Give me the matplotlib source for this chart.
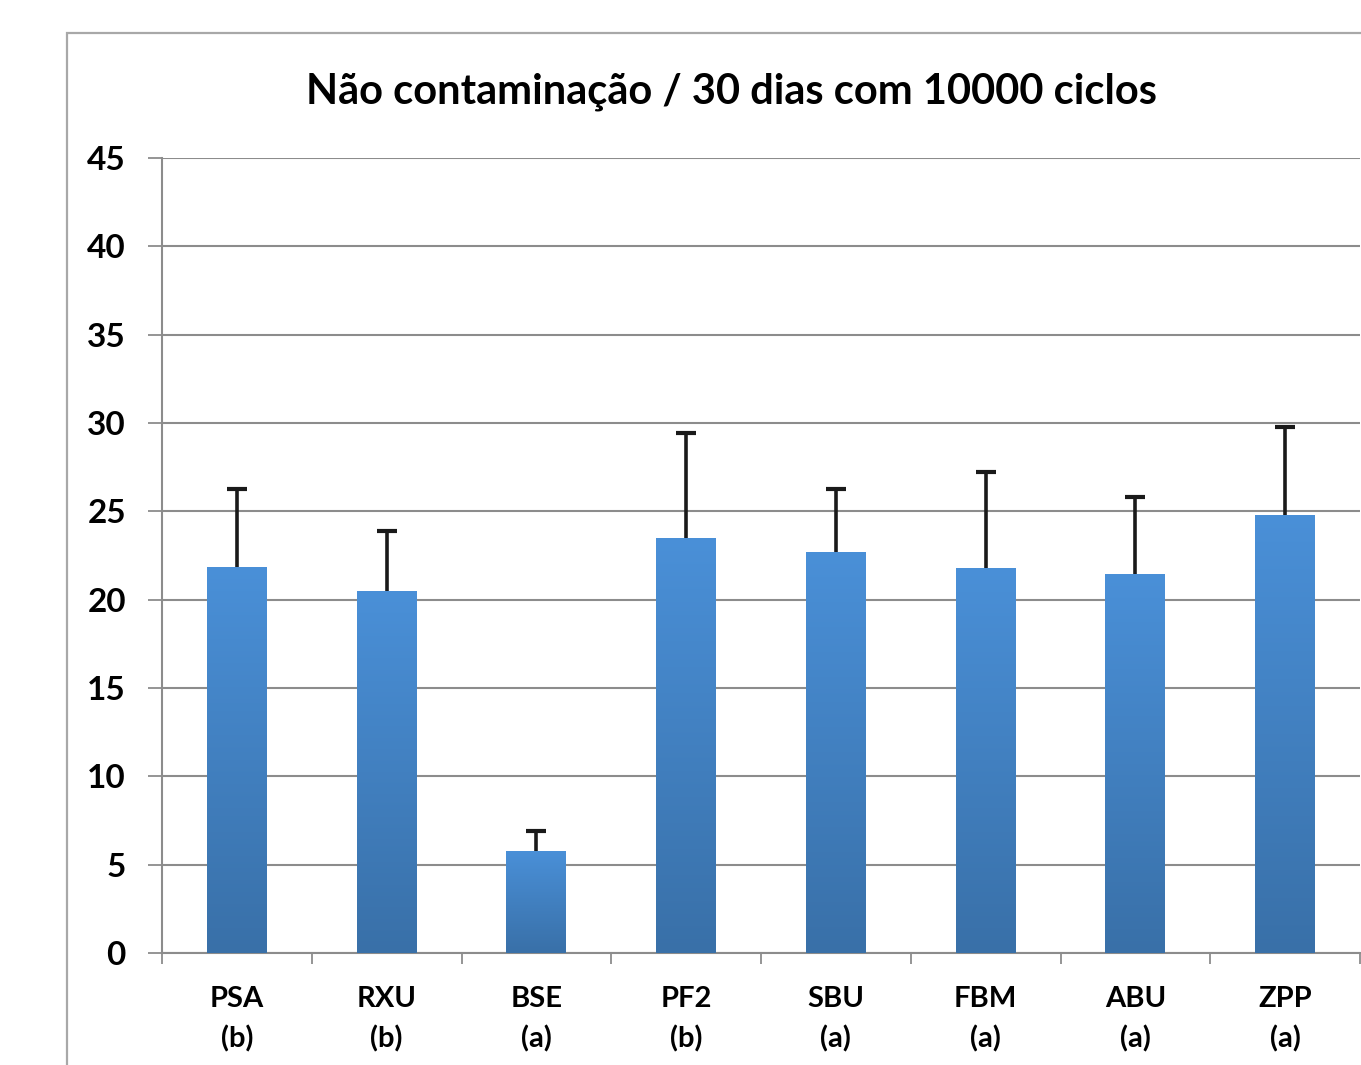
import numpy as np
import matplotlib.pyplot as plt
from matplotlib.patches import Rectangle
from matplotlib.colors import LinearSegmentedColormap

# amostras e grupos estatísticos
amostras = ["PSA", "RXU", "BSE", "PF2", "SBU", "FBM", "ABU", "ZPP"]
grupos = ["(b)", "(b)", "(a)", "(b)", "(a)", "(a)", "(a)", "(a)"]
medias = [21.85, 20.5, 5.8, 23.5, 22.7, 21.8, 21.45, 24.8]
desvios = [4.4, 3.4, 1.1, 5.95, 3.55, 5.45, 4.35, 4.95]
yticks = [0, 5, 10, 15, 20, 25, 30, 35, 40, 45]

plt.rcParams['font.family'] = ['Lato', 'DejaVu Sans']
plt.rcParams['font.weight'] = 'bold'

W, H = 1361, 1065
fig = plt.figure(figsize=(W / 100, H / 100), dpi=100)
ax = fig.add_axes([162 / W, (H - 953) / H, (1360 - 162) / W, (953 - 158) / H])

# moldura do gráfico
fig.patches.append(Rectangle((67 / W, -0.05), 1.0, (H - 33) / H + 0.05,
                             transform=fig.transFigure, fill=False,
                             edgecolor='#a8a8a8', lw=1.6))

x = np.arange(len(amostras))
largura = 0.4
barras = ax.bar(x, medias, width=largura, color='none', edgecolor='none', zorder=3)

# degradê vertical em cada barra
cmap = LinearSegmentedColormap.from_list('azul', ['#3970a8', '#4a90d8'])
grad = np.linspace(0, 1, 256).reshape(-1, 1)
for b in barras:
    im = ax.imshow(grad, cmap=cmap, origin='lower', aspect='auto',
                   extent=[b.get_x(), b.get_x() + b.get_width(), 0, b.get_height()],
                   zorder=3)
    im.set_clip_path(b)

# barras de erro só para cima
topos = np.array(medias) + np.array(desvios)
ax.vlines(x, medias, topos, color='#1a1a1a', lw=2.6, zorder=4)
ax.plot(x, topos, ls='none', marker='_', ms=15, mew=3, color='#1a1a1a', zorder=4)

ax.set_xlim(-0.5, len(amostras) - 0.5)
ax.set_ylim(0, 45)
ax.set_yticks(yticks)
ax.set_yticklabels([str(v) for v in yticks], fontsize=24, fontweight='bold')
ax.yaxis.grid(True, color='#8c8c8c', lw=1.5, zorder=0)
ax.set_axisbelow(True)

ax.set_xticks(np.arange(len(amostras) + 1) - 0.5)
ax.set_xticklabels([])
ax.set_xticks(x, minor=True)
ax.set_xticklabels([f"{a}\n{g}" for a, g in zip(amostras, grupos)], minor=True,
                   fontsize=21, fontweight='bold', linespacing=1.6)
ax.tick_params(axis='x', which='major', length=8, width=1.3, color='#8c8c8c', direction='out')
ax.tick_params(axis='x', which='minor', length=0, pad=24)
ax.tick_params(axis='y', length=10, width=1.3, color='#8c8c8c', pad=16)

for s in ['top', 'right']:
    ax.spines[s].set_visible(False)
for s in ['left', 'bottom']:
    ax.spines[s].set_color('#8c8c8c')
    ax.spines[s].set_linewidth(1.5)

fig.text(732 / W, 1 - 92 / H, "Não contaminação / 30 dias com 10000 ciclos",
         ha='center', va='center', fontsize=30, fontweight='bold')

fig.savefig('out.png', dpi=100)
